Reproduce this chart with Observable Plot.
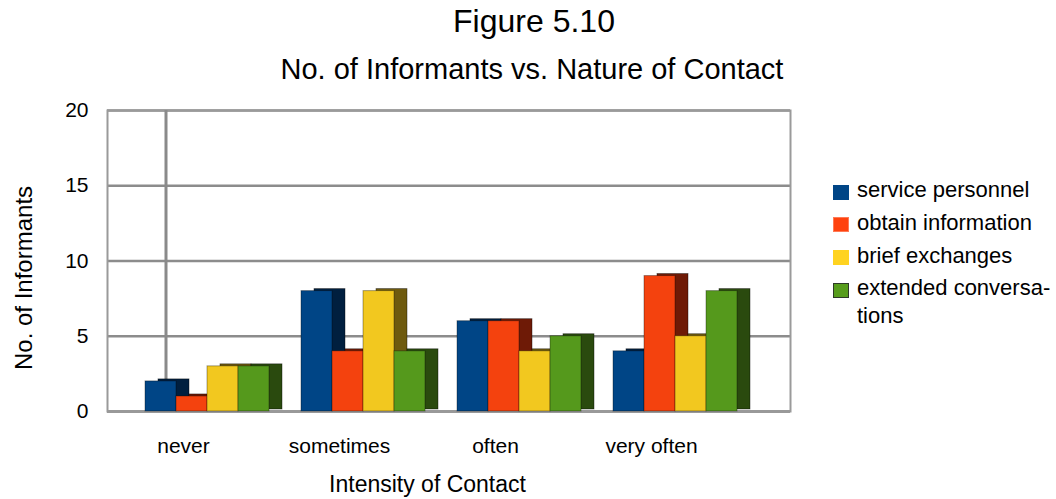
<!DOCTYPE html>
<html>
<head>
<meta charset="utf-8">
<script src="https://cdn.jsdelivr.net/npm/d3@7"></script>
<script src="https://cdn.jsdelivr.net/npm/@observablehq/plot@0.6"></script>
<style>
  body { margin: 0; background: #fff; font-family: "Liberation Sans", Arial, sans-serif; color: #000; }
  #wrap { position: relative; width: 1056px; height: 499px; overflow: hidden; background: #fff; }
  #chart { position: absolute; left: 0; top: 0; }
  #title { position: absolute; left: 6px; width: 1056px; top: 5px; text-align: center; font-size: 32px; line-height: 32px; white-space: nowrap; }
  #subtitle { position: absolute; left: 4px; width: 1056px; top: 55px; text-align: center; font-size: 29px; line-height: 29px; white-space: nowrap; }
  #legend { position: absolute; left: 833px; top: 176px; font-size: 22px; }
  .row { display: flex; align-items: flex-start; min-height: 32.8px; }
  .sw { width: 16px; height: 15px; margin-top: 8.5px; margin-right: 8px; box-sizing: border-box; flex: none; }
  .lbl { line-height: 28px; white-space: nowrap; }
</style>
</head>
<body>
<div id="wrap">
  <div id="chart"></div>
  <div id="title"></div>
  <div id="subtitle"></div>
  <div id="legend"></div>
</div>
<script>
// ---- data ----
const titleText = "Figure 5.10";
const subtitleText = "No. of Informants vs. Nature of Contact";
const xLabel = "Intensity of Contact";
const yLabel = "No. of Informants";
const categories = ["never", "sometimes", "often", "very often"];
const series = ["service personnel", "obtain information", "brief exchanges", "extended conversations"];
const legendLabels = ["service personnel", "obtain information", "brief exchanges", "extended conversa-<br>tions"];
const servicePersonnel = [2, 8, 6, 4];
const obtainInformation = [1, 4, 6, 9];
const briefExchanges = [3, 8, 4, 5];
const extendedConversations = [3, 4, 5, 8];
const yTicks = [0, 5, 10, 15, 20];

// ---- styles ----
const frontColors = ["#004586", "#f4420e", "#f2c81f", "#55991c"];
const sideColors = ["#001f3f", "#6e1a06", "#6e5a0e", "#2a4a0e"];
const legendColors = ["#004586", "#ff420e", "#ffd320", "#579d1c"];
const legendBorders = ["#004586", "#ff7a55", "#ffd320", "#2e3a28"];

const seriesValues = [servicePersonnel, obtainInformation, briefExchanges, extendedConversations];
const rows = categories.flatMap((c, ci) =>
  series.map((s, si) => ({category: c, series: s, value: seriesValues[si][ci]})));

const W = 1056, H = 499;
const frameL = 107, frameR = 790, frameT = 110, frameB = 411;
const bandStart = 129, bandStep = 156, groupPad = 16, barW = 31, depth = 13;

function barOpts(i, extra) {
  return Object.assign({
    x: "category", y: "value",
    insetLeft: groupPad + barW * i,
    insetRight: bandStep - groupPad - barW * (i + 1)
  }, extra);
}

const sideMarks = series.map((s, i) =>
  Plot.barY(rows.filter(d => d.series === s), barOpts(i, {
    fill: sideColors[i], dx: depth, dy: -2, stroke: "#000", strokeOpacity: 0.5, strokeWidth: 0.8
  })));
const frontMarks = series.map((s, i) =>
  Plot.barY(rows.filter(d => d.series === s), barOpts(i, {
    fill: frontColors[i], stroke: "#000", strokeOpacity: 0.35, strokeWidth: 1
  })));

// back-wall vertical edge (thin bar in the first band)
const backEdge = Plot.barY([categories[0]], {
  x: d => d, y1: 0, y2: 20, fill: "#8a8a8a",
  insetLeft: 166 - bandStart - 1.5, insetRight: bandStep - (166 - bandStart) - 1.5
});

const chart = Plot.plot({
  width: W, height: H,
  marginLeft: frameL, marginRight: W - frameR, marginTop: frameT, marginBottom: H - frameB,
  x: {domain: categories, range: [bandStart, bandStart + bandStep * categories.length], padding: 0},
  y: {domain: [0, 20]},
  style: {fontFamily: "'Liberation Sans', Arial, sans-serif", fontSize: "21px", color: "#000", background: "#fff", overflow: "visible"},
  marks: [
    Plot.gridY(yTicks, {stroke: "#8c8c8c", strokeOpacity: 1, strokeWidth: 2.5}),
    Plot.frame({stroke: "#9a9a9a", strokeWidth: 2}),
    backEdge,
    Plot.ruleY([0], {stroke: "#999", strokeWidth: 3}),
    ...sideMarks,
    ...frontMarks,
    Plot.axisY(yTicks, {tickSize: 0, tickPadding: 19, fontSize: 21, label: null}),
    Plot.axisX({tickSize: 0, tickPadding: 27, dx: -24, fontSize: 21, label: null}),
    Plot.text([xLabel], {frameAnchor: "bottom", text: d => d, dx: -21.5, dy: 80.5, fontSize: 23}),
    Plot.text([yLabel], {frameAnchor: "left", textAnchor: "middle", text: d => d, rotate: -90, dx: -82.7, dy: 17, fontSize: 24})
  ]
});
document.getElementById("chart").appendChild(chart);
document.getElementById("title").textContent = titleText;
document.getElementById("subtitle").textContent = subtitleText;

const legend = d3.select("#legend");
series.forEach((s, i) => {
  const row = legend.append("div").attr("class", "row");
  row.append("div").attr("class", "sw")
    .style("background", legendColors[i])
    .style("border", `1px solid ${legendBorders[i]}`);
  row.append("div").attr("class", "lbl").html(legendLabels[i]);
});
</script>
</body>
</html>
